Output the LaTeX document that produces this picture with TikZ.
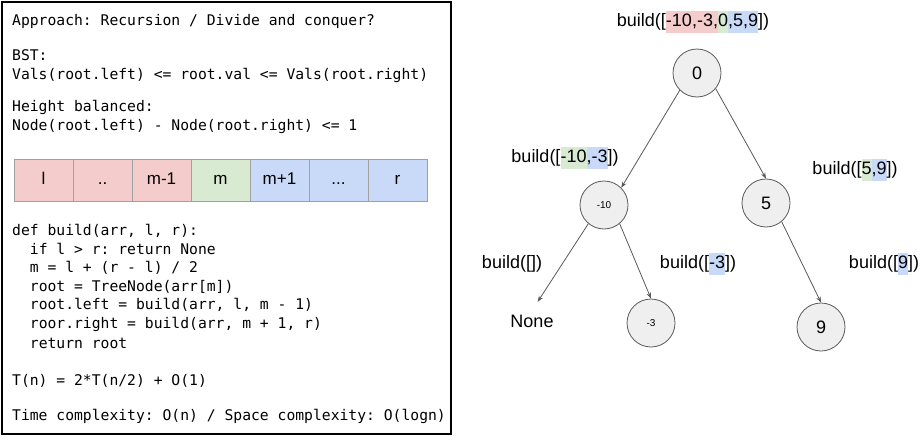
\documentclass[tikz,border=0pt]{standalone}
\usepackage{fontspec}
\setmainfont{Liberation Sans}
\newfontfamily\codefont{DejaVu Sans Mono}
\usetikzlibrary{arrows.meta}
\definecolor{redc}{HTML}{F4CCCC}
\definecolor{greenc}{HTML}{D9EAD3}
\definecolor{bluec}{HTML}{C9DAF8}
\definecolor{cellgray}{HTML}{A0A0A0}
\definecolor{nodegray}{HTML}{EFEFEF}
\definecolor{linegray}{HTML}{595959}
\newcommand{\hlbox}[2]{{\setlength{\fboxsep}{0pt}\colorbox{#1}{\strut #2}}}

\begin{document}
\begin{tikzpicture}[x=1pt, y=-1pt,
  codeline/.style={anchor=west, inner sep=0pt, text height=10pt, text depth=3pt, font=\codefont\fontsize{14.7}{18}\selectfont\frenchspacing},
  cell/.style={draw=cellgray, line width=0.8pt, minimum width=59pt, minimum height=42pt, inner sep=0pt, text height=12.5pt, text depth=3.5pt, font=\fontsize{17}{20}\selectfont},
  tnode/.style={circle, draw=linegray, line width=0.8pt, fill=nodegray, minimum size=48pt, inner sep=0pt, font=\fontsize{18}{20}\selectfont},
  tinyval/.style={font=\fontsize{10}{12}\selectfont},
  call/.style={inner sep=0pt, text height=15.4pt, text depth=6.6pt, font=\fontsize{18}{22}\selectfont},
  link/.style={draw=linegray, line width=0.8pt, -{Stealth[length=6pt,width=4.5pt]}}]
\useasboundingbox (0,0) rectangle (920,436);

\draw[line width=2pt] (2,2) rectangle (451,434);

\node[codeline] (approach) at (12,22) {Approach: Recursion / Divide and conquer?};
\node[codeline] (bst) at (12,57) {BST:};
\node[codeline] (vals) at (12,76) {Vals(root.left) <= root.val <= Vals(root.right)};
\node[codeline] (height) at (12,108) {Height balanced:};
\node[codeline] (bal) at (12,127) {Node(root.left) - Node(root.right) <= 1};

\foreach \lbl/\col [count=\i from 0] in {l/redc, ../redc, m-1/redc, m/greenc, m+1/bluec, {...}/bluec, r/bluec}
	\node[cell, fill=\col] (cell\i) at (43.5+59*\i, 180) {\lbl};

\node[codeline] (def) at (12,232) {def build(arr, l, r):};
\node[codeline] (ifline) at (29.7,251) {if l > r: return None};
\node[codeline] (mid) at (29.7,269) {m = l + (r - l) / 2};
\node[codeline] (rootline) at (29.7,288) {root = TreeNode(arr[m])};
\node[codeline] (leftline) at (29.7,306) {root.left = build(arr, l, m - 1)};
\node[codeline] (rightline) at (29.7,325) {roor.right = build(arr, m + 1, r)};
\node[codeline] (ret) at (29.7,345) {return root};
\node[codeline] (recur) at (12,382) {T(n) = 2*T(n/2) + O(1)};
\node[codeline] (cplx) at (12,417) {Time complexity: O(n) / Space complexity: O(logn)};

\node[call] (topcall) at (693,22) {build([\hlbox{redc}{-10,-3,}\hlbox{greenc}{0}\hlbox{bluec}{,5,9}])};
\node[tnode] (n0) at (697,73) {0};
\node[call] (lcall) at (565,158) {build([\hlbox{greenc}{-10}\hlbox{bluec}{,-3}])};
\node[call] (rcall) at (855,170) {build([\hlbox{greenc}{5}\hlbox{bluec}{,9}])};
\node[tnode, tinyval] (nm10) at (604,205) {-10};
\node[tnode] (n5) at (766,203) {5};
\node[call] (ecall) at (512,264) {build([])};
\node[call] (m3call) at (698,264) {build([\hlbox{bluec}{-3}])};
\node[call] (n9call) at (884,264) {build([\hlbox{bluec}{9}])};
\node[call, inner sep=10pt] (none) at (532,323) {None};
\node[tnode, tinyval] (nm3) at (651,323) {-3};
\node[tnode] (n9) at (821,327) {9};

\draw[link] (n0.-135) -- (nm10.45);
\draw[link] (n0.-40) -- (n5.north);
\draw[link] (nm10.-130) -- (none.75);
\draw[link] (nm10.-50) -- (nm3.north);
\draw[link] (n5.-50) -- (n9.north);

\end{tikzpicture}
\end{document}
